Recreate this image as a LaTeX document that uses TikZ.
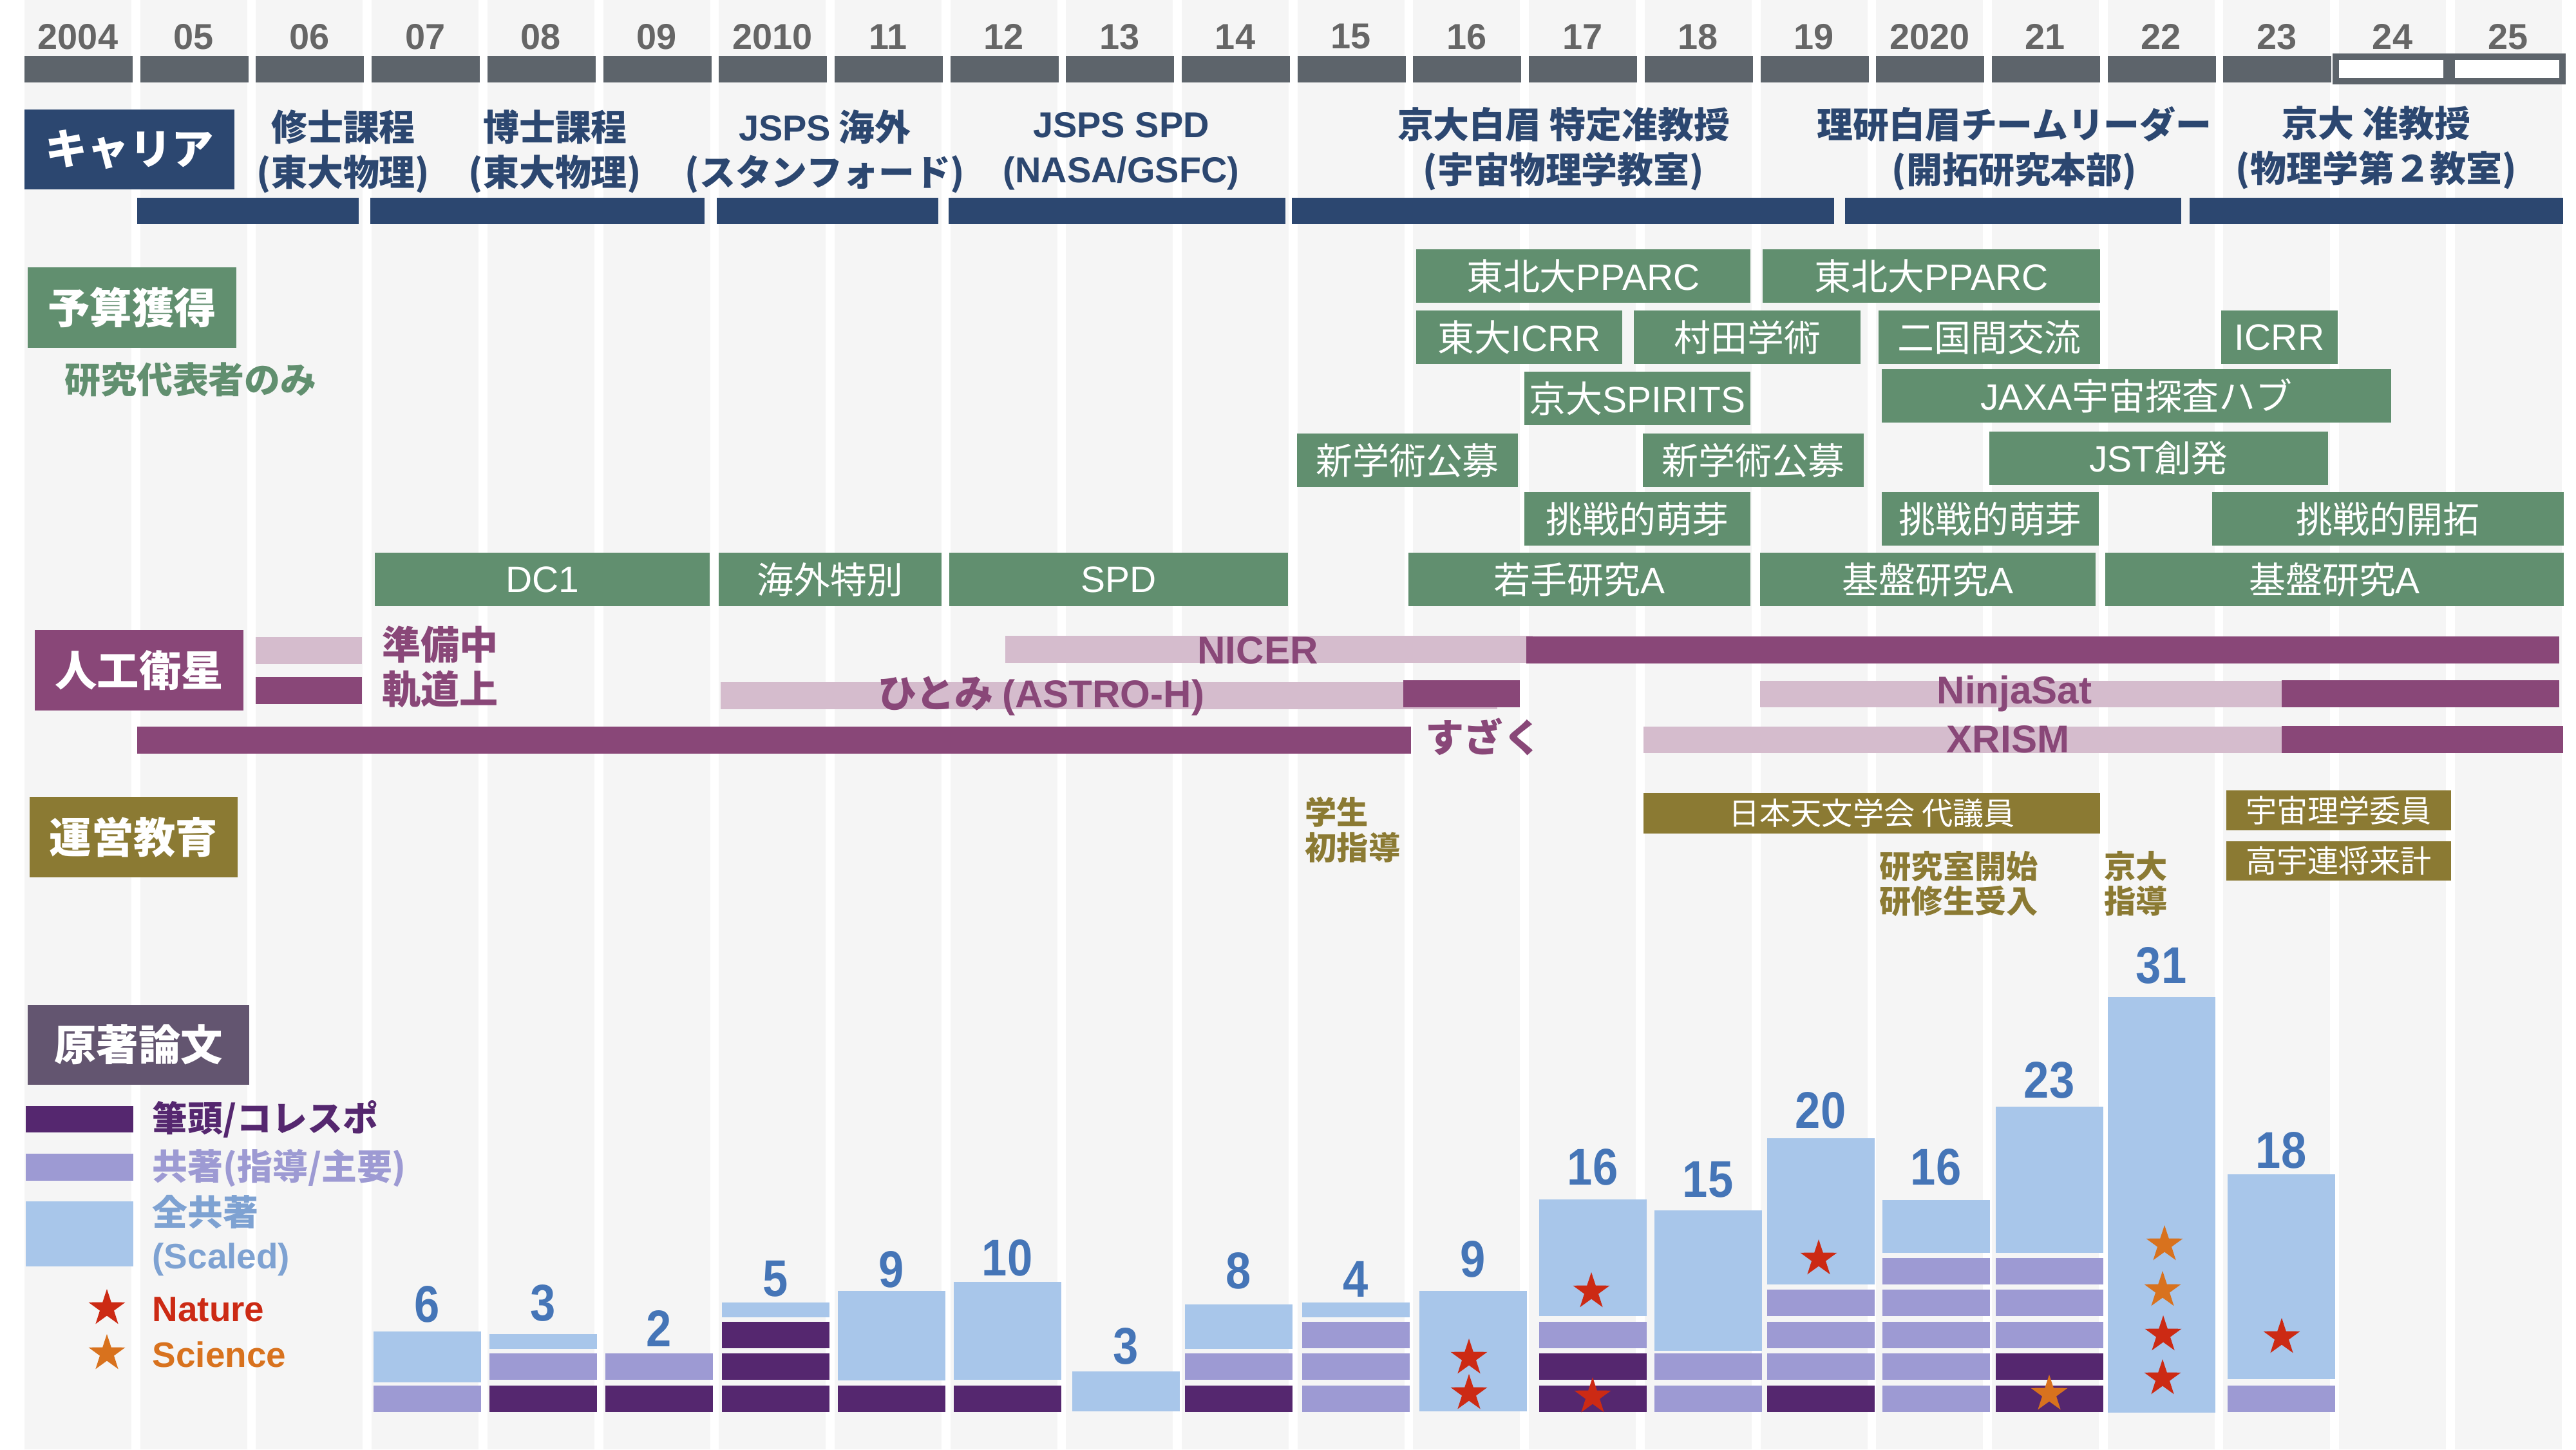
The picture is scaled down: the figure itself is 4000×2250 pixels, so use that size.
\documentclass[tikz,border=0pt]{standalone}
\usepackage{fontspec}
\setmainfont{Liberation Sans}
\newfontfamily\jp{Noto Sans CJK JP}
\newfontfamily\numf{Liberation Sans}[FakeStretch=0.88]
\usetikzlibrary{shapes.geometric}
\definecolor{navy}{HTML}{2C4770}
\definecolor{grn}{HTML}{618F6F}
\definecolor{sat}{HTML}{894778}
\definecolor{satl}{HTML}{D5BCCD}
\definecolor{oli}{HTML}{8B7A33}
\definecolor{papbox}{HTML}{635570}
\definecolor{pdark}{HTML}{55276F}
\definecolor{pmid}{HTML}{9D9AD3}
\definecolor{plight}{HTML}{A8C6EA}
\definecolor{numblue}{HTML}{4575B7}
\definecolor{scl}{HTML}{7EA2D2}
\definecolor{nred}{HTML}{CC2A14}
\definecolor{sorg}{HTML}{D8721E}
\definecolor{yrbox}{HTML}{5D646B}
\definecolor{yrtxt}{HTML}{666666}
\definecolor{colbg}{HTML}{F5F5F5}
\newcommand\latn[1]{{\rmfamily #1}}
\newcommand\latb[1]{{\rmfamily\bfseries #1}}
\newcommand\boxnode[7]{\node[#2, minimum width={(#5-#3)*0.01cm}, minimum height={(#6-#4)*0.01cm}] (#1) at ({(#3+#5)/2},{(#4+#6)/2}) {#7};}
\newcommand\segbar[3]{\fill[#3] (#1,{2151-49.6*(#2-1)}) rectangle ({#1+167},{2192-49.6*(#2-1)});}
\newcommand\lightbar[3]{\fill[plight] (#1,#2) rectangle ({#1+167},#3);}
\newcommand\starnode[4]{\node[pstar, fill=#4] (#1) at (#2,#3) {};}
\begin{document}
\begin{tikzpicture}[x=0.01cm, y=-0.01cm,
  yrlab/.style={text=yrtxt, font=\bfseries\fontsize{15.9}{16}\selectfont, inner sep=0},
  hdrbox/.style={text=white, font=\jp\bfseries\fontsize{18.6}{19}\selectfont, inner sep=0},
  carlab/.style={text=navy, font=\jp\bfseries\fontsize{15.9}{19.9}\selectfont, align=center, inner sep=0},
  gbox/.style={fill=grn, text=white, font=\jp\fontsize{16.2}{17}\selectfont, inner sep=0},
  satlab/.style={text=sat, font=\jp\bfseries\fontsize{17.1}{18}\selectfont, inner sep=0},
  obox/.style={fill=oli, text=white, font=\jp\fontsize{13.7}{14}\selectfont, inner sep=0},
  olab/.style={text=oli, font=\jp\bfseries\fontsize{14}{15.5}\selectfont, align=left, inner sep=0, anchor=west},
  numlab/.style={text=numblue, font=\numf\bfseries\fontsize{22.8}{23}\selectfont, inner sep=0},
  leglab/.style={font=\jp\bfseries\fontsize{15.6}{19}\selectfont, inner sep=0, anchor=west, align=left},
  pstar/.style={star, star points=5, star point ratio=2.6, inner sep=0, minimum size=0.6cm, draw=none}
]
\useasboundingbox (0,0) rectangle (4000,2250);
\fill[white] (0,0) rectangle (4000,2250);
% background columns
\foreach \i in {0,...,21} {
  \fill[colbg] ({38+179.7*\i},0) rectangle ({204+179.7*\i},2250);
}
% year header
\foreach \y [count=\i from 0] in {2004,05,06,07,08,09,2010,11,12,13,14,15,16,17,18,19,2020,21,22,23,24,25} {
  \node[yrlab] (yr\i) at ({121+179.7*\i},57) {\y};
}
\foreach \i in {0,...,19} {
  \fill[yrbox] ({38+179.7*\i},87) rectangle ({206+179.7*\i},128);
}
\foreach \i in {20,21} {
  \draw[yrbox, fill=white, line width=0.1cm] ({33+179.7*\i},88) rectangle ({205+179.7*\i},126);
}

% ===== Career =====
\boxnode{carH}{hdrbox, fill=navy}{38}{170}{364}{294}{キャリア}
\node[carlab] (c1) at (533,235) {修士課程\\(東大物理)};
\node[carlab] (c2) at (862,235) {博士課程\\(東大物理)};
\node[carlab] (c3) at (1281,235) {\latb{JSPS} 海外\\(スタンフォード)};
\node[carlab] (c4) at (1741,235) {\latb{JSPS SPD}\\\latb{(NASA/GSFC)}};
\node[carlab] (c5) at (2428,231) {京大白眉 特定准教授\\(宇宙物理学教室)};
\node[carlab] (c6) at (3128,231) {理研白眉チームリーダー\\(開拓研究本部)};
\node[carlab] (c7) at (3690,229) {京大 准教授\\(物理学第２教室)};
\fill[navy] (213,307) rectangle (557,348);
\fill[navy] (575,307) rectangle (1094,348);
\fill[navy] (1113,307) rectangle (1457,348);
\fill[navy] (1473,307) rectangle (1996,348);
\fill[navy] (2006,307) rectangle (2848,348);
\fill[navy] (2865,307) rectangle (3387,348);
\fill[navy] (3400,307) rectangle (3980,348);

% ===== Funding =====
\boxnode{fundH}{hdrbox, fill=grn}{43}{415}{367}{540}{予算獲得}
\node[text=grn, font=\jp\bfseries\fontsize{15.9}{16}\selectfont, inner sep=0] (fundNote) at (296,589) {研究代表者のみ};
\boxnode{fA1}{gbox}{2199}{387}{2718}{470}{東北大\latn{PPARC}}
\boxnode{fA2}{gbox}{2737}{387}{3261}{470}{東北大\latn{PPARC}}
\boxnode{fB1}{gbox}{2199}{482}{2519}{565}{東大\latn{ICRR}}
\boxnode{fB2}{gbox}{2537}{482}{2889}{565}{村田学術}
\boxnode{fB3}{gbox}{2917}{482}{3261}{565}{二国間交流}
\boxnode{fB4}{gbox}{3449}{482}{3630}{565}{\latn{ICRR}}
\boxnode{fC1}{gbox}{2367}{577}{2718}{660}{京大\latn{SPIRITS}}
\boxnode{fC2}{gbox}{2922}{573}{3713}{656}{\latn{JAXA}宇宙探査ハブ}
\boxnode{fD1}{gbox}{2014}{673}{2357}{756}{新学術公募}
\boxnode{fD2}{gbox}{2551}{673}{2894}{756}{新学術公募}
\boxnode{fD3}{gbox}{3089}{670}{3615}{753}{\latn{JST}創発}
\boxnode{fE1}{gbox}{2367}{764}{2718}{847}{挑戦的萌芽}
\boxnode{fE2}{gbox}{2922}{764}{3259}{847}{挑戦的萌芽}
\boxnode{fE3}{gbox}{3435}{764}{3981}{847}{挑戦的開拓}
\boxnode{fF1}{gbox}{582}{858}{1102}{941}{\latn{DC1}}
\boxnode{fF2}{gbox}{1116}{858}{1462}{941}{海外特別}
\boxnode{fF3}{gbox}{1474}{858}{2000}{941}{\latn{SPD}}
\boxnode{fF4}{gbox}{2187}{858}{2718}{941}{若手研究\latn{A}}
\boxnode{fF5}{gbox}{2733}{858}{3254}{941}{基盤研究\latn{A}}
\boxnode{fF6}{gbox}{3269}{858}{3981}{941}{基盤研究\latn{A}}

% ===== Satellites =====
\boxnode{satH}{hdrbox, fill=sat}{54}{978}{378}{1103}{人工衛星}
\fill[satl] (397,989) rectangle (562,1031);
\fill[sat] (397,1051) rectangle (562,1093);
\node[satlab, anchor=west] (legPrep) at (593,1001) {準備中};
\node[satlab, anchor=west] (legOrb) at (593,1070) {軌道上};
% NICER
\fill[satl] (1561,987) rectangle (2380,1029);
\fill[sat] (2370,988) rectangle (3974,1030);
\node[satlab] (nicer) at (1953,1010) {\latb{NICER}};
% Hitomi
\fill[satl] (1119,1059) rectangle (2325,1101);
\fill[sat] (2179,1056) rectangle (2360,1098);
\node[satlab] (hitomi) at (1617,1080) {ひとみ \latb{(ASTRO-H)}};
% Suzaku
\fill[sat] (213,1128) rectangle (2191,1170);
\node[satlab] (suzaku) at (2304,1144) {すざく};
% NinjaSat
\fill[satl] (2733,1057) rectangle (3716,1098);
\fill[sat] (3543,1056) rectangle (3974,1098);
\node[satlab] (ninja) at (3128,1077) {\latb{NinjaSat}};
% XRISM
\fill[satl] (2552,1128) rectangle (3716,1169);
\fill[sat] (3543,1127) rectangle (3980,1169);
\node[satlab] (xrism) at (3118,1148) {\latb{XRISM}};

% ===== Operations / education =====
\boxnode{opsH}{hdrbox, fill=oli}{46}{1237}{369}{1362}{運営教育}
\node[olab] (oStud) at (2026,1288) {学生\\初指導};
\boxnode{oJAS}{obox}{2552}{1231}{3261}{1294}{日本天文学会 代議員}
\boxnode{oSpace}{obox}{3457}{1227}{3806}{1289}{宇宙理学委員}
\boxnode{oHigh}{obox}{3457}{1306}{3806}{1367}{高宇連将来計}
\node[olab] (oLab) at (2918,1372) {研究室開始\\研修生受入};
\node[olab] (oKyoto) at (3267,1372) {京大\\指導};

% ===== Papers =====
\boxnode{papH}{hdrbox, fill=papbox}{43}{1560}{387}{1684}{原著論文}
\fill[pdark] (40,1717) rectangle (207,1758);
\node[leglab, text=pdark] (lgFirst) at (236,1737) {筆頭/コレスポ};
\fill[pmid] (40,1791) rectangle (207,1833);
\node[leglab, text=pmid] (lgCo) at (236,1813) {共著(指導/主要)};
\fill[plight] (40,1865) rectangle (207,1966);
\node[leglab, text=scl] (lgAll) at (236,1918) {全共著\\\latb{(Scaled)}};
\starnode{lgStarN}{166}{2031}{nred}
\node[leglab, text=nred, font=\bfseries\fontsize{15.6}{16}\selectfont] (lgNature) at (236,2033) {Nature};
\starnode{lgStarS}{166}{2101}{sorg}
\node[leglab, text=sorg, font=\bfseries\fontsize{15.6}{16}\selectfont] (lgScience) at (236,2103) {Science};

% bars
% 2007
\segbar{580}{1}{pmid} \lightbar{580}{2067}{2146}
\node[numlab] (n07) at (663,2025) {6};
% 2008
\segbar{760}{1}{pdark} \segbar{760}{2}{pmid} \lightbar{760}{2071}{2094}
\node[numlab] (n08) at (843,2023) {3};
% 2009
\segbar{940}{1}{pdark} \segbar{940}{2}{pmid}
\node[numlab] (n09) at (1023,2062) {2};
% 2010
\segbar{1121}{1}{pdark} \segbar{1121}{2}{pdark} \segbar{1121}{3}{pdark} \lightbar{1121}{2022}{2045}
\node[numlab] (n10) at (1204,1985) {5};
% 2011
\segbar{1301}{1}{pdark} \lightbar{1301}{2004}{2143}
\node[numlab] (n11) at (1384,1971) {9};
% 2012
\segbar{1481}{1}{pdark} \lightbar{1481}{1990}{2142}
\node[numlab] (n12) at (1564,1953) {10};
% 2013
\lightbar{1665}{2129}{2191}
\node[numlab] (n13) at (1748,2090) {3};
% 2014
\segbar{1840}{1}{pdark} \segbar{1840}{2}{pmid} \lightbar{1840}{2025}{2094}
\node[numlab] (n14) at (1923,1973) {8};
% 2015
\segbar{2022}{1}{pmid} \segbar{2022}{2}{pmid} \segbar{2022}{3}{pmid} \lightbar{2022}{2022}{2045}
\node[numlab] (n15) at (2105,1986) {4};
% 2016
\lightbar{2204}{2004}{2191}
\node[numlab] (n16) at (2287,1955) {9};
\starnode{s16a}{2281}{2108}{nred}
\starnode{s16b}{2281}{2163}{nred}
% 2017
\segbar{2390}{1}{pdark} \segbar{2390}{2}{pdark} \segbar{2390}{3}{pmid} \lightbar{2390}{1862}{2043}
\node[numlab] (n17) at (2473,1812) {16};
\starnode{s17a}{2471}{2005}{nred}
\starnode{s17b}{2473}{2168}{nred}
% 2018
\segbar{2569}{1}{pmid} \segbar{2569}{2}{pmid} \lightbar{2569}{1879}{2097}
\node[numlab] (n18) at (2652,1831) {15};
% 2019
\segbar{2744}{1}{pdark} \segbar{2744}{2}{pmid} \segbar{2744}{3}{pmid} \segbar{2744}{4}{pmid} \lightbar{2744}{1767}{1994}
\node[numlab] (n19) at (2827,1724) {20};
\starnode{s19a}{2824}{1954}{nred}
% 2020
\segbar{2923}{1}{pmid} \segbar{2923}{2}{pmid} \segbar{2923}{3}{pmid} \segbar{2923}{4}{pmid} \segbar{2923}{5}{pmid} \lightbar{2923}{1863}{1945}
\node[numlab] (n20) at (3006,1812) {16};
% 2021
\segbar{3099}{1}{pdark} \segbar{3099}{2}{pdark} \segbar{3099}{3}{pmid} \segbar{3099}{4}{pmid} \segbar{3099}{5}{pmid} \lightbar{3099}{1718}{1945}
\node[numlab] (n21) at (3182,1677) {23};
\starnode{s21a}{3182}{2164}{sorg}
% 2022
\lightbar{3273}{1548}{2193}
\node[numlab] (n22) at (3356,1499) {31};
\starnode{s22a}{3361}{1932}{sorg}
\starnode{s22b}{3358}{2003}{sorg}
\starnode{s22c}{3359}{2072}{nred}
\starnode{s22d}{3358}{2140}{nred}
% 2023
\segbar{3459}{1}{pmid} \lightbar{3459}{1823}{2141}
\node[numlab] (n23) at (3542,1786) {18};
\starnode{s23a}{3543}{2076}{nred}
\end{tikzpicture}
\end{document}
